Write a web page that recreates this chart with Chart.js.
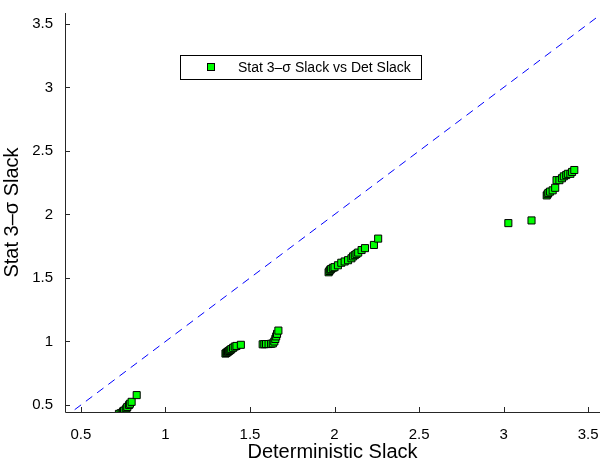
<!DOCTYPE html>
<html>
<head>
<meta charset="utf-8">
<script src="https://cdn.jsdelivr.net/npm/chart.js@4/dist/chart.umd.min.js"></script>
<style>
  html, body { margin: 0; padding: 0; background: #fff; }
  #wrap { width: 606px; height: 464px; }
</style>
</head>
<body>
<div id="wrap"><canvas id="graph"></canvas></div>
<script>
// valeurs
const detSlack = [
  0.725, 0.735, 0.745, 0.75, 0.755, 0.765, 0.77, 0.775, 0.785, 0.79, 0.80, 0.83,
  1.355, 1.36, 1.365, 1.37, 1.375, 1.38, 1.385, 1.39, 1.40, 1.41, 1.42, 1.446,
  1.575, 1.585, 1.595, 1.61, 1.625, 1.635, 1.644, 1.65, 1.655, 1.66, 1.668,
  1.965, 1.97, 1.975, 1.98, 1.99, 2.0, 2.02, 2.04, 2.06, 2.08, 2.1, 2.11, 2.12, 2.13, 2.14, 2.16, 2.18, 2.233, 2.258,
  3.028, 3.165, 3.255, 3.26, 3.265, 3.275, 3.29, 3.305, 3.313, 3.33, 3.345, 3.356, 3.37, 3.38, 3.395, 3.405, 3.418
];
const statSlack = [
  0.43, 0.435, 0.44, 0.45, 0.455, 0.465, 0.475, 0.485, 0.50, 0.51, 0.525, 0.578,
  0.905, 0.91, 0.915, 0.92, 0.925, 0.93, 0.935, 0.94, 0.95, 0.96, 0.965, 0.974,
  0.978, 0.979, 0.98, 0.98, 0.982, 0.985, 1.0, 1.02, 1.04, 1.06, 1.086,
  1.545, 1.555, 1.565, 1.57, 1.58, 1.585, 1.60, 1.62, 1.63, 1.64, 1.655, 1.67, 1.68, 1.69, 1.70, 1.72, 1.735, 1.76, 1.81,
  1.932, 1.953, 2.15, 2.16, 2.17, 2.18, 2.19, 2.21, 2.27, 2.27, 2.285, 2.30, 2.31, 2.32, 2.32, 2.335, 2.35
];
const xTicks = [0.5, 1, 1.5, 2, 2.5, 3, 3.5];
const yTicks = [0.5, 1, 1.5, 2, 2.5, 3, 3.5];
const diagonal = [0, 4];
const legendLabel = "Stat 3\u2013\u03c3 Slack vs Det Slack";

const points = detSlack.map((x, i) => ({ x: x, y: statSlack[i] }));
const font = "Liberation Sans, Arial, Helvetica, sans-serif";
const axisColor = "#262626";

// ticks vers l'intérieur + légende façon matlab
const matlabAxes = {
  id: "matlabAxes",
  afterDraw(chart) {
    const c = chart.ctx;
    const a = chart.chartArea;
    const sx = chart.scales.x, sy = chart.scales.y;
    c.save();
    c.strokeStyle = axisColor;
    c.lineWidth = 1;
    c.beginPath();
    c.moveTo(a.left + 0.5, a.top);
    c.lineTo(a.left + 0.5, a.bottom + 0.5);
    c.lineTo(a.right, a.bottom + 0.5);
    xTicks.forEach((v) => {
      const px = Math.round(sx.getPixelForValue(v)) + 0.5;
      c.moveTo(px, a.bottom);
      c.lineTo(px, a.bottom - 5);
    });
    yTicks.forEach((v) => {
      const py = Math.round(sy.getPixelForValue(v)) + 0.5;
      c.moveTo(a.left, py);
      c.lineTo(a.left + 5, py);
    });
    c.stroke();

    // légende
    c.fillStyle = "#fff";
    c.fillRect(180.5, 55.5, 241, 24);
    c.strokeStyle = "#000";
    c.strokeRect(180.5, 55.5, 241, 24);
    c.fillStyle = "#00ff00";
    c.fillRect(208, 64, 6, 6);
    c.strokeRect(207.5, 63.5, 7, 7);
    c.fillStyle = "#000";
    c.font = "14px " + font;
    c.textBaseline = "middle";
    c.fillText(legendLabel, 238, 68);
    c.restore();
  },
};

let ctx = document.querySelector("#graph");
let graph = new Chart(ctx, {
  type: "scatter",
  data: {
    datasets: [
      {
        label: legendLabel,
        data: points,
        pointStyle: "rect",
        pointRadius: 5,
        pointBackgroundColor: "#00ff00",
        pointBorderColor: "#000",
        pointBorderWidth: 1,
        order: 1,
      },
      {
        label: "y = x",
        data: diagonal.map((v) => ({ x: v, y: v })),
        showLine: true,
        borderColor: "#0000ff",
        borderWidth: 1,
        borderDash: [8, 6],
        pointRadius: 0,
        order: 2,
      },
    ],
  },
  plugins: [matlabAxes],
  options: {
    responsive: true,
    maintainAspectRatio: false,
    animation: false,
    layout: { padding: { left: 0, right: 1, top: 10, bottom: 0 } },
    plugins: { legend: { display: false }, tooltip: { enabled: false } },
    scales: {
      x: {
        type: "linear",
        min: 0.406,
        max: 3.57,
        afterBuildTicks: (s) => { s.ticks = xTicks.map((v) => ({ value: v })); },
        afterFit: (s) => { s.height = 52; },
        grid: { display: false },
        border: { display: false },
        ticks: { color: "#000", font: { family: font, size: 15 }, padding: 6, maxRotation: 0, callback: (v) => String(v) },
        title: { display: true, text: "Deterministic Slack", color: "#000", font: { family: font, size: 20 }, padding: { top: 0, bottom: 0 } },
      },
      y: {
        type: "linear",
        min: 0.445,
        max: 3.586,
        afterBuildTicks: (s) => { s.ticks = yTicks.map((v) => ({ value: v })); },
        afterFit: (s) => { s.width = 65; },
        grid: { display: false },
        border: { display: false },
        ticks: { color: "#000", font: { family: font, size: 15 }, padding: 4, callback: (v) => String(v) },
        title: { display: true, text: "Stat 3\u2013\u03c3 Slack", color: "#000", font: { family: font, size: 20 }, padding: { top: 0, bottom: 2 } },
      },
    },
  },
});
</script>
</body>
</html>
